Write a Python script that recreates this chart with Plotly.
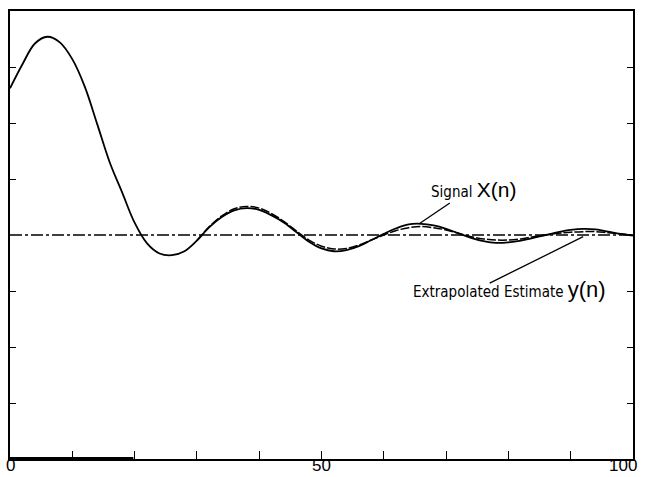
import plotly.graph_objects as go

# sample index n
n_signal = list(range(0, 101, 2))
signal_x = [2.62, 3.05, 3.42, 3.54, 3.44, 3.14, 2.65, 1.98, 1.30, 0.76,
            0.22, -0.15, -0.33, -0.36, -0.29, -0.10, 0.14, 0.32, 0.44, 0.48,
            0.45, 0.35, 0.22, 0.05, -0.12, -0.24, -0.29, -0.27, -0.20, -0.09,
            0.02, 0.12, 0.19, 0.20, 0.17, 0.11, 0.03, -0.05, -0.11, -0.14,
            -0.13, -0.10, -0.05, 0.00, 0.05, 0.09, 0.11, 0.10, 0.06, 0.02,
            -0.01]

n_est = list(range(30, 101, 2))
estimate_y = [-0.10, 0.15, 0.34, 0.47, 0.51, 0.48, 0.38, 0.24, 0.07, -0.09,
              -0.20, -0.25, -0.24, -0.18, -0.09, 0.00, 0.08, 0.13, 0.15, 0.13,
              0.09, 0.03, -0.03, -0.07, -0.09, -0.09, -0.07, -0.03, 0.00, 0.03,
              0.05, 0.06, 0.06, 0.04, 0.02, 0.00]

zero_n = [0, 100]
zero_v = [0, 0]

x_tickvals = [10, 20, 30, 40, 50, 60, 70, 80, 90]
x_labels = [0, 50, 100]
y_tickvals = [-3, -2, -1, 1, 2, 3]

label_signal = "Signal <span style='font-size:21px;font-family:Liberation Sans'>X(n)</span>"
label_est = "Extrapolated Estimate <span style='font-size:22px;font-family:Liberation Sans'>y(n)</span>"

FONT = "DejaVu Sans Condensed, DejaVu Sans, sans-serif"

fig = go.Figure()
fig.add_trace(go.Scatter(x=zero_n, y=zero_v, mode="lines",
                         line=dict(color="black", width=1.5, dash="12px,3px,3px,3px"),
                         showlegend=False, hoverinfo="skip"))
fig.add_trace(go.Scatter(x=n_est, y=estimate_y, mode="lines", line_shape="spline",
                         line=dict(color="black", width=1.5, dash="9px,2px"),
                         showlegend=False))
fig.add_trace(go.Scatter(x=n_signal, y=signal_x, mode="lines", line_shape="spline",
                         line=dict(color="black", width=1.8),
                         showlegend=False))

# leader lines
fig.add_shape(type="line", x0=70.6, y0=0.57, x1=65.8, y1=0.21, xref="x", yref="y",
              line=dict(color="black", width=1.3))
fig.add_shape(type="line", x0=77.0, y0=-0.86, x1=92.0, y1=-0.03, xref="x", yref="y",
              line=dict(color="black", width=1.3))

fig.add_annotation(x=67.2, y=0.82, xref="x", yref="y", text=label_signal,
                   showarrow=False, font=dict(family=FONT, size=15, color="black"),
                   xanchor="left", yanchor="middle")
fig.add_annotation(x=64.3, y=-0.98, xref="x", yref="y", text=label_est,
                   showarrow=False, font=dict(family=FONT, size=15, color="black"),
                   xanchor="left", yanchor="middle")

# x tick labels (bottom edge of text box at bottom of page)
for v in x_labels:
    fig.add_annotation(x=v, y=-18 / 448, xref="x", yref="paper", text=str(v), showarrow=False,
                       yanchor="bottom", xshift=(-10 if v == 100 else 0),
                       font=dict(family="Liberation Sans, Arial, sans-serif", size=17, color="black"))

# thick mark at the bottom-left of the axis
fig.add_shape(type="line", x0=0, x1=19.8, y0=-4, y1=-4, xref="x", yref="y",
              line=dict(color="black", width=4))

fig.update_xaxes(range=[0, 100], tickvals=x_tickvals, showticklabels=False,
                 ticks="inside", ticklen=8, tickwidth=1.3, tickcolor="black",
                 showline=True, linecolor="black", linewidth=1.6, mirror=True,
                 showgrid=False, zeroline=False, automargin=False)
fig.update_yaxes(range=[-4, 4], tickvals=y_tickvals, showticklabels=False,
                 ticks="inside", ticklen=6, tickwidth=1.3, tickcolor="black",
                 showline=True, linecolor="black", linewidth=1.6, mirror="ticks",
                 showgrid=False, zeroline=False, automargin=False)

fig.update_layout(width=645, height=477, margin=dict(l=10, r=12, t=11, b=18, autoexpand=False),
                  plot_bgcolor="white", paper_bgcolor="white", showlegend=False)

fig.write_html("out.html")
